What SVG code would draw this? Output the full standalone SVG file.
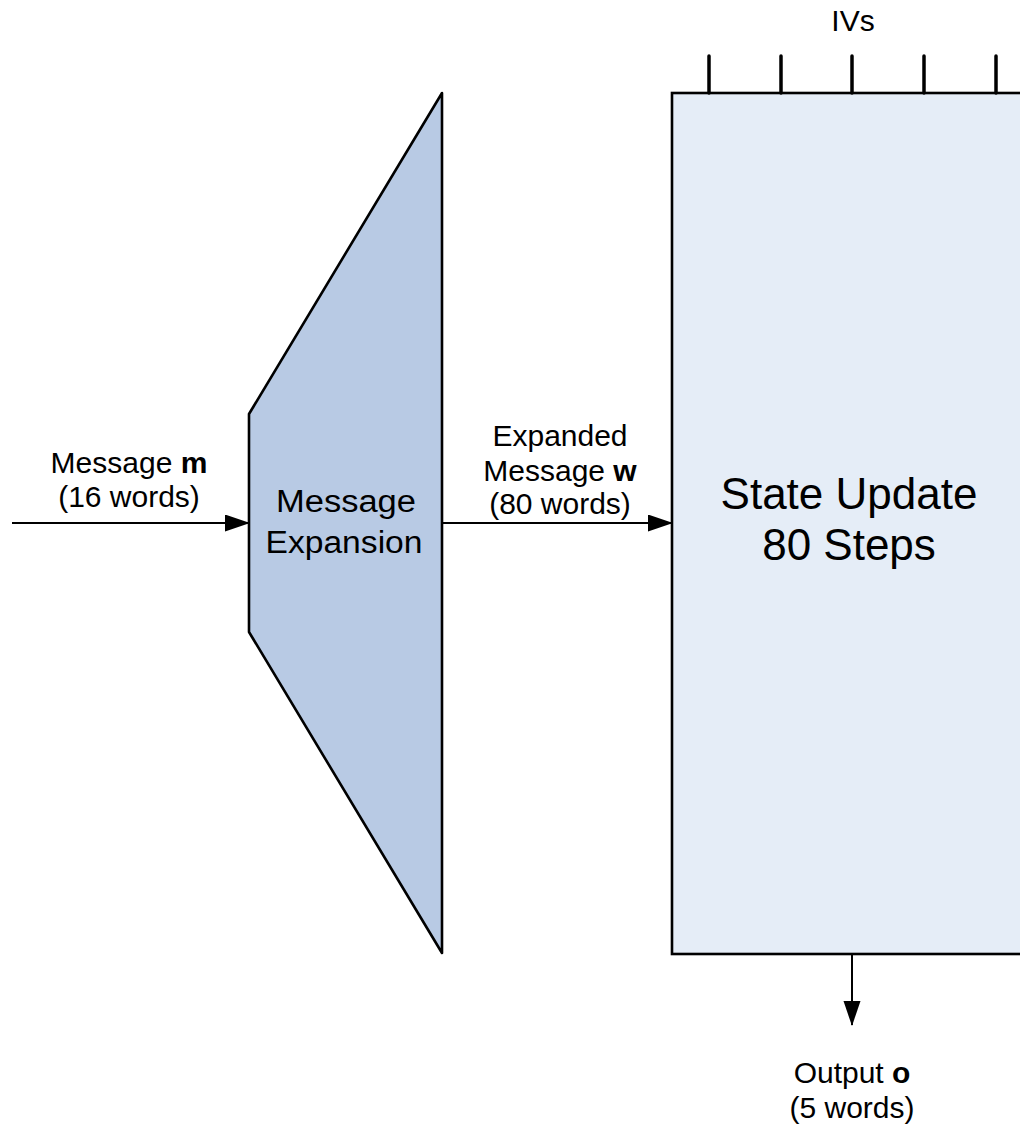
<svg xmlns="http://www.w3.org/2000/svg" width="1020" height="1127" viewBox="0 0 1020 1127">
<style>
text{font-family:"Liberation Sans",Arial,sans-serif;fill:#000;text-anchor:middle}
.lbl{font-size:30px}
.big{font-size:44px}
.mid{font-size:31px}
.conn{stroke:#000;stroke-width:2;fill:none}
.tick{stroke:#000;stroke-width:3.5;stroke-linecap:round}
</style>
<defs>
<marker id="arr" markerUnits="userSpaceOnUse" markerWidth="26" markerHeight="18" refX="24" refY="8.5" orient="auto">
<path d="M0,0 L25,8.5 L0,17 Z" fill="#000"/>
</marker>
</defs>
<rect width="1020" height="1127" fill="#fff"/>
<g id="expansion">
<polygon points="442,93 249,414 249,632 442,953" fill="#B8CAE4" stroke="#000" stroke-width="2.6" stroke-linejoin="round"/>
<text class="mid" x="346" y="512" textLength="140" lengthAdjust="spacingAndGlyphs">Message</text>
<text class="mid" x="344" y="553" textLength="157" lengthAdjust="spacingAndGlyphs">Expansion</text>
</g>
<g id="state-update">
<rect x="672" y="93" width="400" height="861" fill="#E5EDF7" stroke="#000" stroke-width="2.6"/>
<text class="big" x="849" y="509">State Update</text>
<text class="big" x="849" y="560">80 Steps</text>
</g>
<g id="ivs">
<text class="lbl" x="853" y="31">IVs</text>
<line class="tick" x1="709" y1="56" x2="709" y2="93"/>
<line class="tick" x1="781" y1="56" x2="781" y2="93"/>
<line class="tick" x1="852" y1="56" x2="852" y2="93"/>
<line class="tick" x1="924" y1="56" x2="924" y2="93"/>
<line class="tick" x1="996" y1="56" x2="996" y2="93"/>
</g>
<g id="connectors">
<line class="conn" x1="12" y1="523" x2="249" y2="523" marker-end="url(#arr)"/>
<line class="conn" x1="442" y1="523" x2="672" y2="523" marker-end="url(#arr)"/>
<line class="conn" x1="852" y1="954" x2="852" y2="1025" marker-end="url(#arr)"/>
</g>
<g id="labels">
<text class="lbl" x="129" y="473">Message <tspan font-weight="bold">m</tspan></text>
<text class="lbl" x="129" y="507">(16 words)</text>
<text class="lbl" x="560" y="446">Expanded</text>
<text class="lbl" x="560" y="481">Message <tspan font-weight="bold">w</tspan></text>
<text class="lbl" x="560" y="514">(80 words)</text>
<text class="lbl" x="852" y="1083">Output <tspan font-weight="bold">o</tspan></text>
<text class="lbl" x="852" y="1118">(5 words)</text>
</g>
</svg>
